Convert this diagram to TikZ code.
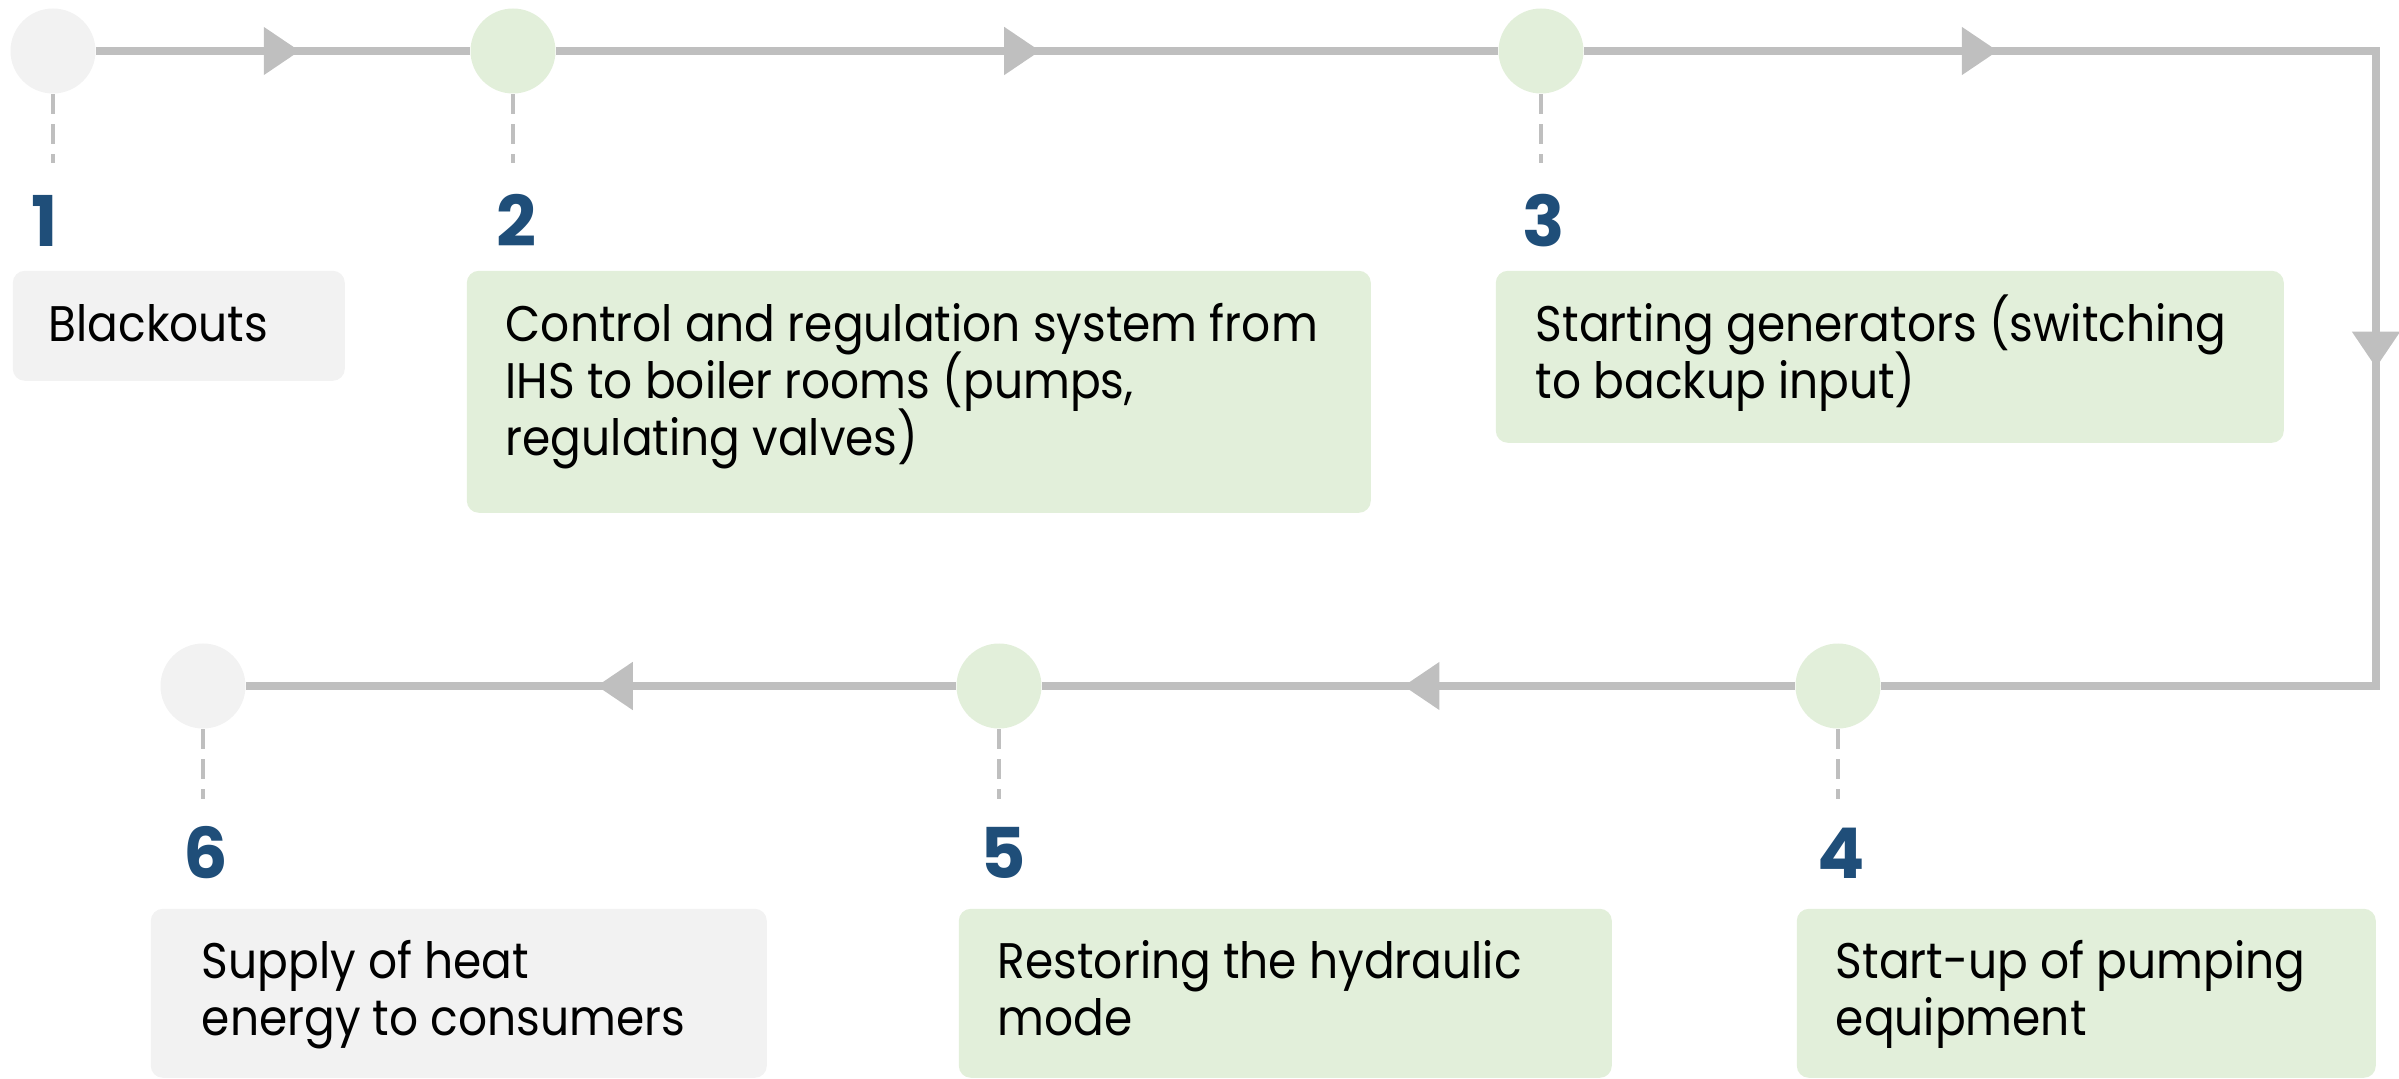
\documentclass[tikz,border=0pt]{standalone}
\usepackage{fontspec}
\setmainfont{Poppins}[FakeStretch=0.91]
\newfontfamily\numfont{Poppins}
\usetikzlibrary{arrows.meta,decorations.markings}
\definecolor{linegray}{HTML}{BFBFBF}
\definecolor{greenfill}{HTML}{E2EFDA}
\definecolor{grayfill}{HTML}{F2F2F2}
\definecolor{numblue}{HTML}{1F4E79}
\newcommand\mytightlines{\lineskiplimit=-30pt\relax\lineskip=0pt\relax}
\begin{document}
\begin{tikzpicture}[x=0.25pt,y=-0.25pt,
  stepdot/.style={circle,minimum size=21.25pt,inner sep=0pt},
  gdot/.style={stepdot,fill=greenfill},
  adot/.style={stepdot,fill=grayfill},
  flow/.style={draw=linegray,line width=2pt},
  tickline/.style={draw=linegray,line width=0.9pt,dash pattern=on 5pt off 2.5pt},
  card/.style={rounded corners=3pt,inner sep=0pt,anchor=north west},
  numlabel/.style={font=\numfont\fontsize{17.5}{18}\selectfont\bfseries,text=numblue,anchor=base,inner sep=0pt},
  txt/.style={font=\fontsize{12.5}{14.25}\selectfont\mytightlines,align=left,anchor=base west,inner sep=0pt},
  arr/.style={postaction={decorate},decoration={markings,mark=at position #1 with {\arrow{Triangle[length=9pt,width=11.5pt]}}}},
  arrtwo/.style 2 args={postaction={decorate},decoration={markings,
      mark=at position #1 with {\arrow{Triangle[length=9pt,width=11.5pt]}},
      mark=at position #2 with {\arrow{Triangle[length=9pt,width=11.5pt]}}}}
]
\useasboundingbox (0,0) rectangle (2399,1079);
% boxes
\node[card,fill=grayfill,minimum width=83pt,minimum height=27.5pt] (b1) at (12,270) {};
\node[card,fill=greenfill,minimum width=226pt,minimum height=60.5pt] (b2) at (466,270) {};
\node[card,fill=greenfill,minimum width=197pt,minimum height=43pt] (b3) at (1495,270) {};
\node[card,fill=greenfill,minimum width=144.75pt,minimum height=42.25pt] (b4) at (1796,908) {};
\node[card,fill=greenfill,minimum width=163.25pt,minimum height=42.25pt] (b5) at (958,908) {};
\node[card,fill=grayfill,minimum width=154pt,minimum height=42.25pt] (b6) at (150,908) {};
% circles
\node[adot] (c1) at (53,51) {};
\node[gdot] (c2) at (513,51) {};
\node[gdot] (c3) at (1541,51) {};
\node[gdot] (c4) at (1838,686) {};
\node[gdot] (c5) at (999,686) {};
\node[adot] (c6) at (203,686) {};
\coordinate (tr) at (2376,51);
\coordinate (br) at (2376,686);
% flow lines
\draw[flow,arr=0.545] (c1) -- (c2);
\draw[flow,arr=0.514] (c2) -- (c3);
\draw[flow,arrtwo={103.4pt}{277.1pt}] (c3) -- (tr) -- (br) -- (c4);
\draw[flow,arr=0.52] (c4) -- (c5);
\draw[flow,arr=0.506] (c5) -- (c6);
% dashed ticks
\coordinate (d1) at (53,163);
\coordinate (d2) at (513,163);
\coordinate (d3) at (1541,163);
\coordinate (d4) at (1838,799);
\coordinate (d5) at (999,799);
\coordinate (d6) at (203,799);
\draw[tickline] (c1.south) -- (d1);
\draw[tickline] (c2.south) -- (d2);
\draw[tickline] (c3.south) -- (d3);
\draw[tickline] (c4.south) -- (d4);
\draw[tickline] (c5.south) -- (d5);
\draw[tickline] (c6.south) -- (d6);
% numbers
\node[numlabel] (n1) at (45,247) {1};
\node[numlabel] (n2) at (516,247) {2};
\node[numlabel] (n3) at (1544,247) {3};
\node[numlabel] (n4) at (1841,878) {4};
\node[numlabel] (n5) at (1003,878) {5};
\node[numlabel] (n6) at (206,878) {6};
% texts (base anchor = baseline of last line)
\node[txt] (t1) at (48,342) {Blackouts};
\node[txt] (t2) at (505,456) {Control and regulation system from\\IHS to boiler rooms (pumps,\\regulating valves)};
\node[txt] (t3) at (1535,399) {Starting generators (switching\\to backup input)};
\node[txt] (t4) at (1835,1035) {Start-up of pumping\\equipment};
\node[txt] (t5) at (997,1035) {Restoring the hydraulic\\mode};
\node[txt] (t6) at (201,1035) {Supply of heat\\energy to consumers};
\end{tikzpicture}
\end{document}
